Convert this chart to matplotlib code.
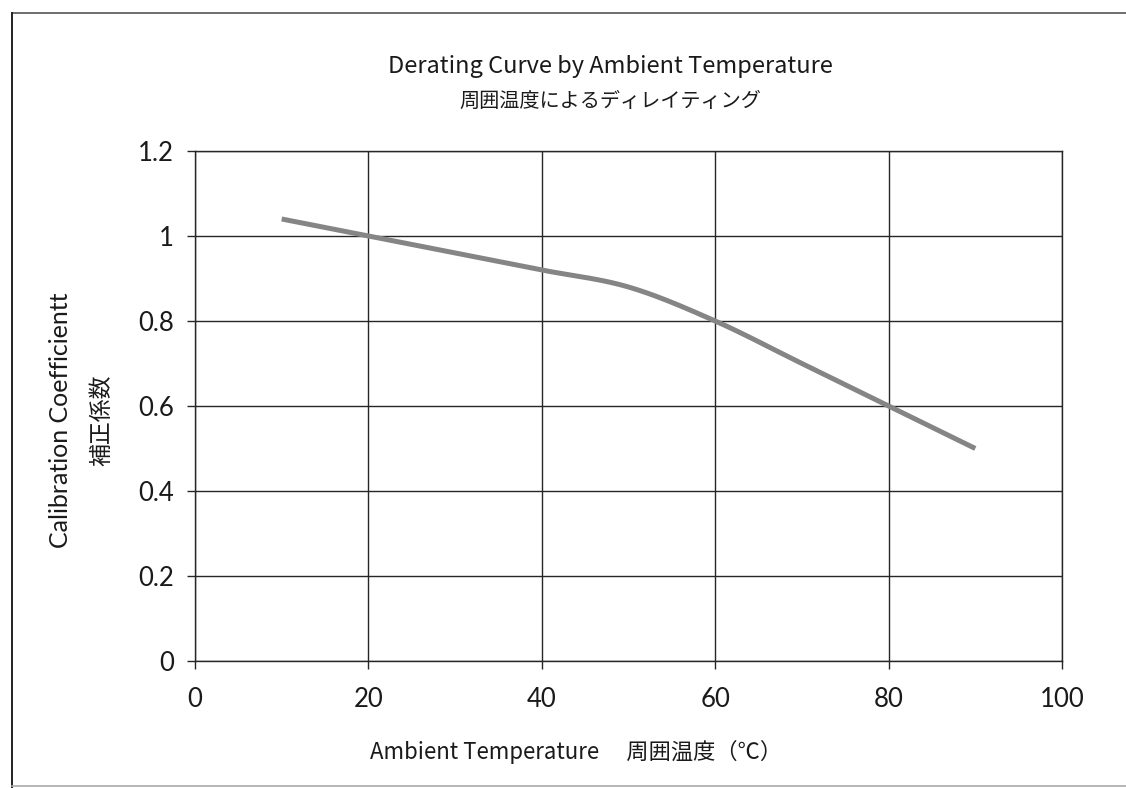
import numpy as np
import matplotlib
matplotlib.use("Agg")
import matplotlib.pyplot as plt
from matplotlib.lines import Line2D

# ---- data ----
temperature = [10, 20, 30, 40, 50, 60, 70, 80, 90]
coefficient = [1.04, 1.00, 0.96, 0.92, 0.88, 0.80, 0.70, 0.60, 0.50]
x_ticks = [0, 20, 40, 60, 80, 100]
y_ticks = [0, 0.2, 0.4, 0.6, 0.8, 1.0, 1.2]
y_tick_labels = ["0", "0.2", "0.4", "0.6", "0.8", "1", "1.2"]
title_en = "Derating Curve by Ambient Temperature"
title_jp = "周囲温度によるディレイティング"
xlabel = "Ambient Temperature　 周囲温度（℃）"
ylabel_en = "Calibration Coefficientt"
ylabel_jp = "補正係数"

JP = ["Noto Sans CJK JP", "DejaVu Sans"]
LAT = ["Lato", "Noto Sans CJK JP", "DejaVu Sans"]


def smooth(xs, ys, n=30):
    """Excel-like smoothed line (Catmull-Rom Bezier through the points)."""
    P = np.column_stack([xs, ys]).astype(float)
    out = []
    for i in range(len(P) - 1):
        p0 = P[i - 1] if i > 0 else P[i]
        p1, p2 = P[i], P[i + 1]
        p3 = P[i + 2] if i + 2 < len(P) else P[i + 1]
        c1 = p1 + (p2 - p0) / 6.0
        c2 = p2 - (p3 - p1) / 6.0
        t = np.linspace(0, 1, n)[:, None]
        seg = ((1 - t) ** 3) * p1 + 3 * ((1 - t) ** 2) * t * c1 + 3 * (1 - t) * t ** 2 * c2 + t ** 3 * p2
        out.append(seg if i == 0 else seg[1:])
    S = np.vstack(out)
    return S[:, 0], S[:, 1]


fig = plt.figure(figsize=(11.26, 7.88), dpi=100)
ax = fig.add_axes([195 / 1126, 1 - 661 / 788, (1062 - 195) / 1126, (661 - 151) / 788])

sx, sy = smooth(temperature, coefficient)
ax.plot(sx, sy, color="#858585", lw=3.6, solid_capstyle="butt", zorder=3)

ax.set_xlim(0, 100)
ax.set_ylim(0, 1.2)
ax.set_xticks(x_ticks)
ax.set_yticks(y_ticks)
ax.set_yticklabels(y_tick_labels)
ax.grid(True, color="#262626", lw=1.0)
ax.set_axisbelow(True)
for s in ax.spines.values():
    s.set_color("#262626")
    s.set_linewidth(1.0)
ax.tick_params(axis="both", direction="out", length=6, width=1.0, color="#262626",
               labelsize=18.5, labelcolor="#1a1a1a")
ax.tick_params(axis="y", pad=9)
ax.tick_params(axis="x", pad=13)
for lab in ax.get_xticklabels() + ax.get_yticklabels():
    lab.set_family(LAT)

# titles
fig.text(0.542, 1 - 66 / 788, title_en, ha="center", va="center", fontsize=17, family=JP, color="#1a1a1a")
fig.text(0.542, 1 - 101 / 788, title_jp, ha="center", va="center", fontsize=14.5, family=JP, color="#1a1a1a")

# axis labels
fig.text(0.512, 1 - 752 / 788, xlabel, ha="center", va="center", fontsize=16, family=JP, color="#1a1a1a")
fig.text(61 / 1126, 1 - 420 / 788, ylabel_en, ha="center", va="center", rotation=90, fontsize=18, family=LAT, color="#1a1a1a")
fig.text(102 / 1126, 1 - 420 / 788, ylabel_jp, ha="center", va="center", rotation=90, fontsize=16.5, family=JP, color="#1a1a1a")

# chart-area frame (as in the scanned original)
fig.add_artist(Line2D([12 / 1126, 1.0], [1 - 13 / 788] * 2, transform=fig.transFigure, color="#555555", lw=1.2))
fig.add_artist(Line2D([12 / 1126] * 2, [0.0, 1 - 13 / 788], transform=fig.transFigure, color="#222222", lw=1.4))
fig.add_artist(Line2D([12 / 1126, 1.0], [1 - 786 / 788] * 2, transform=fig.transFigure, color="#aaaaaa", lw=1.2))

fig.savefig("out.png", dpi=100, facecolor="white")
